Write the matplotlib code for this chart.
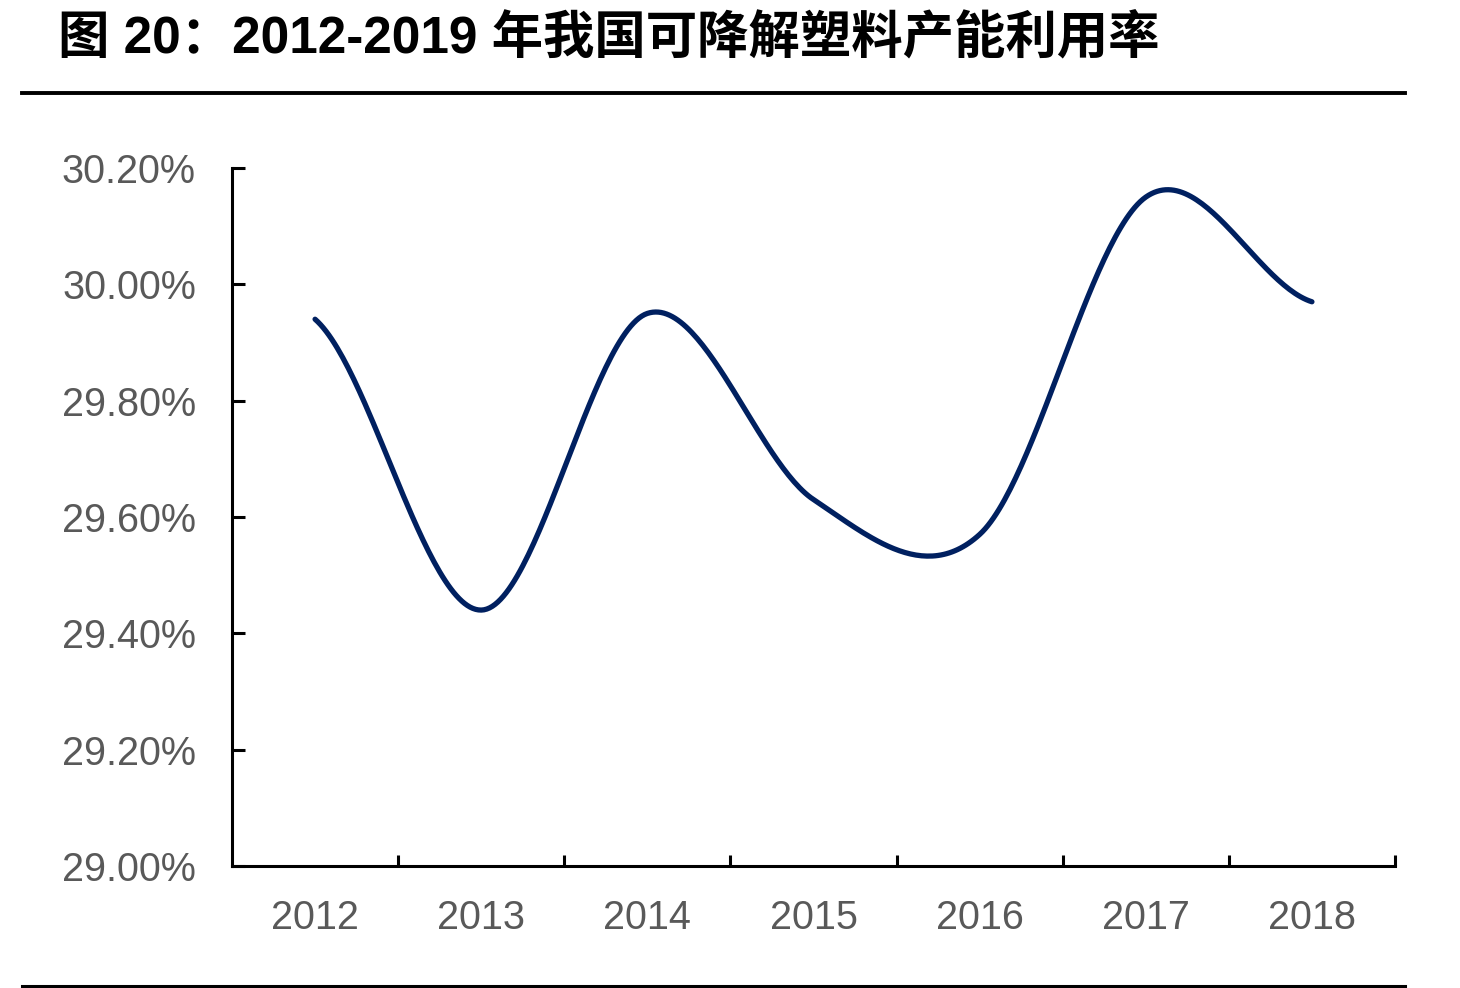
import numpy as np
import matplotlib
matplotlib.use("Agg")
import matplotlib.pyplot as plt
from matplotlib.ticker import FuncFormatter, FixedLocator

plt.rcParams['font.family'] = ['Liberation Sans', 'Noto Sans CJK SC', 'DejaVu Sans']

years = ['2012', '2013', '2014', '2015', '2016', '2017', '2018']
rate = [29.94, 29.44, 29.95, 29.63, 29.57, 30.15, 29.97]
yticks = [29.0, 29.2, 29.4, 29.6, 29.8, 30.0, 30.2]
title = '图 20：2012-2019 年我国可降解塑料产能利用率'


def smooth(y, n=60):
    # Catmull-Rom style smoothing, like the "smoothed line" option in Excel
    y = np.asarray(y, dtype=float)
    p = np.concatenate([[y[0]], y, [y[-1]]])
    xs, ys = [], []
    for i in range(len(y) - 1):
        p0, p1, p2, p3 = p[i], p[i + 1], p[i + 2], p[i + 3]
        m1 = (p2 - p0) / 2
        m2 = (p3 - p1) / 2
        t = np.linspace(0, 1, n, endpoint=(i == len(y) - 2))
        h00 = 2 * t**3 - 3 * t**2 + 1
        h10 = t**3 - 2 * t**2 + t
        h01 = -2 * t**3 + 3 * t**2
        h11 = t**3 - t**2
        xs.append(i + t)
        ys.append(h00 * p1 + h10 * m1 + h01 * p2 + h11 * m2)
    return np.concatenate(xs), np.concatenate(ys)


fig = plt.figure(figsize=(14.6, 9.88), dpi=100)
ax = fig.add_axes([232 / 1460, 1 - 866 / 988, (1395 - 232) / 1460, (866 - 168) / 988])

sx, sy = smooth(rate)
ax.plot(sx, sy, color='#002060', lw=3.8, solid_capstyle='round')

ax.set_xlim(-0.5, len(years) - 0.5)
ax.set_ylim(29.0, 30.2)
ax.set_yticks(yticks)
ax.yaxis.set_major_formatter(FuncFormatter(lambda v, _: f'{v:.2f}%'))
ax.set_xticks(range(len(years)))
ax.set_xticklabels(years)
ax.xaxis.set_minor_locator(FixedLocator(np.arange(0.5, len(years), 1.0)))

for s in ['top', 'right']:
    ax.spines[s].set_visible(False)
for s in ['left', 'bottom']:
    ax.spines[s].set_linewidth(2.2)
    ax.spines[s].set_color('black')

ax.tick_params(axis='y', direction='in', length=9, width=2.2, pad=26,
               labelsize=28.5, labelcolor='#595959')
ax.tick_params(axis='x', which='major', length=0, pad=24,
               labelsize=28.5, labelcolor='#595959')
ax.tick_params(axis='x', which='minor', direction='in', length=8, width=2.2)

fig.text(58 / 1460, 1 - 40 / 988, title, fontsize=37, fontweight='bold',
         color='black', va='center', ha='left')
fig.add_artist(plt.Line2D([22 / 1460, 1405 / 1460], [1 - 93 / 988] * 2,
                          color='black', lw=2.8))
fig.add_artist(plt.Line2D([22 / 1460, 1405 / 1460], [1 - 986 / 988] * 2,
                          color='black', lw=2.2))

fig.savefig('out.png', dpi=100, facecolor='white')
